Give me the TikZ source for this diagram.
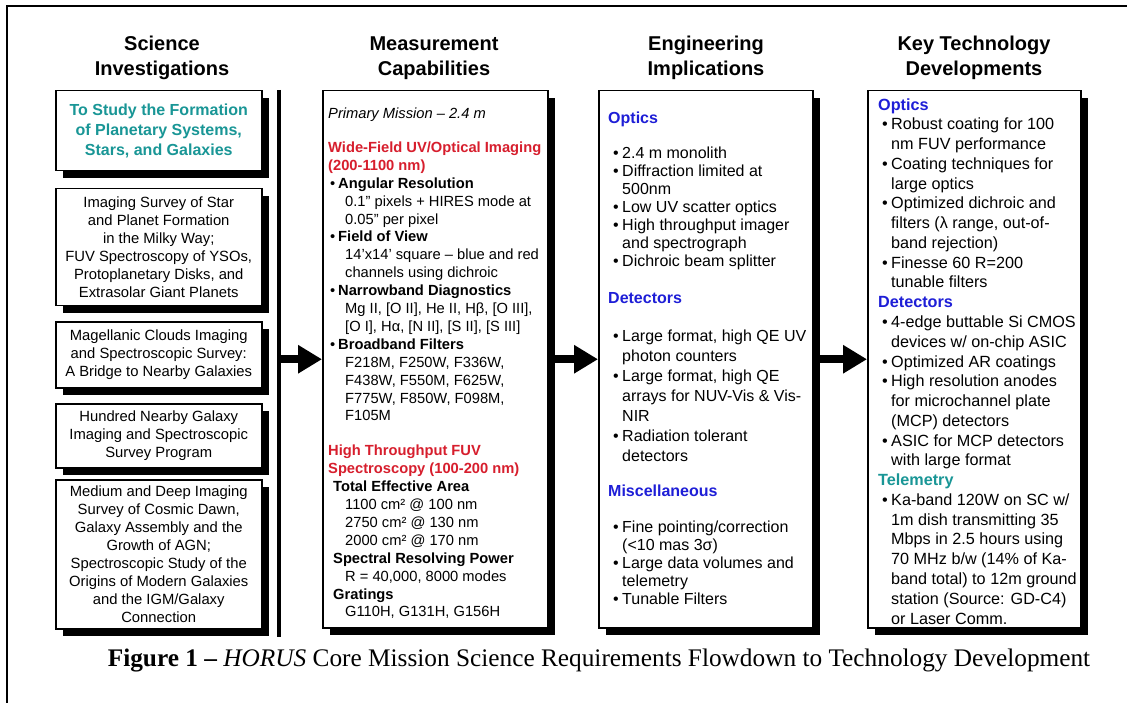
\documentclass[tikz,border=0pt]{standalone}
\usepackage{fontspec}
\setmainfont{Liberation Sans}
\newfontfamily\capfont{Liberation Serif}
\usetikzlibrary{arrows.meta,shadows}
\definecolor{horusteal}{RGB}{25,150,150}
\definecolor{horusred}{RGB}{215,30,45}
\definecolor{horusblue}{RGB}{30,30,215}
\newcommand{\itm}[2]{\hspace*{#1}\makebox[#2][l]{\textbullet}}
\newcommand{\ind}[1]{\hspace*{#1}}
\tikzset{
  sbox/.style={draw, line width=1.5pt, fill=white, inner sep=0pt, anchor=north west,
    drop shadow={shadow xshift=7pt, shadow yshift=-7pt, opacity=1, fill=black}},
  head/.style={align=center, font=\fontsize{20}{25}\selectfont\bfseries},
  sci/.style={align=center, font=\fontsize{14.8}{17.9}\selectfont},
  txt/.style={anchor=north west, align=left, inner sep=0pt},
  bigarrow/.style={line width=8pt, -{Triangle[length=24pt,width=27pt]}},
}
\begin{document}
\begin{tikzpicture}[x=1pt,y=-1pt]
\useasboundingbox (0,0) rectangle (1127,703);
\draw[line width=1.2pt] (7,703) -- (7,6) -- (1127,6);

\node[head] (h1) at (162,58) {Science\\Investigations};
\node[head] (h2) at (434,58) {Measurement\\Capabilities};
\node[head] (h3) at (706,58) {Engineering\\Implications};
\node[head] (h4) at (974,58) {Key Technology\\Developments};

\node[sbox, sci, minimum width=206, minimum height=80, text=horusteal,
  font=\fontsize{16}{20}\selectfont\bfseries] (si1) at (55,90)
  {To Study the Formation\\of Planetary Systems,\\Stars, and Galaxies};
\node[sbox, sci, minimum width=206, minimum height=117] (si2) at (55,188)
  {Imaging Survey of Star\\and Planet Formation\\in the Milky Way;\\FUV Spectroscopy of YSOs,\\Protoplanetary Disks, and\\Extrasolar Giant Planets};
\node[sbox, sci, minimum width=206, minimum height=66] (si3) at (55,321)
  {Magellanic Clouds Imaging\\and Spectroscopic Survey:\\A Bridge to Nearby Galaxies};
\node[sbox, sci, minimum width=206, minimum height=64] (si4) at (55,403)
  {Hundred Nearby Galaxy\\Imaging and Spectroscopic\\Survey Program};
\node[sbox, sci, minimum width=206, minimum height=149] (si5) at (55,479)
  {Medium and Deep Imaging\\Survey of Cosmic Dawn,\\Galaxy Assembly and the\\Growth of AGN;\\Spectroscopic Study of the\\Origins of Modern Galaxies\\and the IGM/Galaxy\\Connection};

\node[sbox, minimum width=225, minimum height=537] (mc) at (322,90) {};
\node[sbox, minimum width=214, minimum height=537] (ei) at (598,90) {};
\node[sbox, minimum width=213, minimum height=537] (kt) at (867,90) {};

\node[txt, font=\fontsize{14.7}{17.9}\selectfont] (mctext) at (328,105.8) {%
\strut\textit{Primary Mission – 2.4 m}\\[16pt]
\textcolor{horusred}{\textbf{Wide-Field UV/Optical Imaging}}\\
\textcolor{horusred}{\textbf{(200-1100 nm)}}\\
\itm{2pt}{8pt}\textbf{Angular Resolution}\\
\ind{17pt}0.1" pixels + HIRES mode at\\
\ind{17pt}0.05" per pixel\\
\itm{2pt}{8pt}\textbf{Field of View}\\
\ind{17pt}14'x14' square – blue and red\\
\ind{17pt}channels using dichroic\\
\itm{2pt}{8pt}\textbf{Narrowband Diagnostics}\\
\ind{17pt}Mg II, [O II], He II, Hβ, [O III],\\
\ind{17pt}[O I], Hα, [N II], [S II], [S III]\\
\itm{2pt}{8pt}\textbf{Broadband Filters}\\
\ind{17pt}F218M, F250W, F336W,\\
\ind{17pt}F438W, F550M, F625W,\\
\ind{17pt}F775W, F850W, F098M,\\
\ind{17pt}F105M\\[17pt]
\textcolor{horusred}{\textbf{High Throughput FUV}}\\
\textcolor{horusred}{\textbf{Spectroscopy (100-200 nm)}}\\
\ind{5pt}\textbf{Total Effective Area}\\
\ind{17pt}1100 cm² @ 100 nm\\
\ind{17pt}2750 cm² @ 130 nm\\
\ind{17pt}2000 cm² @ 170 nm\\
\ind{5pt}\textbf{Spectral Resolving Power}\\
\ind{17pt}R = 40,000, 8000 modes\\
\ind{5pt}\textbf{Gratings}\\
\ind{17pt}G110H, G131H, G156H};

\node[txt, font=\fontsize{16}{18}\selectfont] (eitext) at (608,110.2) {%
\strut\textcolor{horusblue}{\textbf{Optics}}\\[17pt]
\itm{5pt}{9pt}2.4 m monolith\\
\itm{5pt}{9pt}Diffraction limited at\\
\ind{14pt}500nm\\
\itm{5pt}{9pt}Low UV scatter optics\\
\itm{5pt}{9pt}High throughput imager\\
\ind{14pt}and spectrograph\\
\itm{5pt}{9pt}Dichroic beam splitter\\[19pt]
\textcolor{horusblue}{\textbf{Detectors}}\\[20pt]
\itm{5pt}{9pt}Large format, high QE UV\\[2pt]
\ind{14pt}photon counters\\[2pt]
\itm{5pt}{9pt}Large format, high QE\\[2pt]
\ind{14pt}arrays for NUV-Vis \& Vis-\\[2pt]
\ind{14pt}NIR\\[2pt]
\itm{5pt}{9pt}Radiation tolerant\\[2pt]
\ind{14pt}detectors\\[17pt]
\textcolor{horusblue}{\textbf{Miscellaneous}}\\[18pt]
\itm{5pt}{9pt}Fine pointing/correction\\
\ind{14pt}(<10 mas 3σ)\\
\itm{5pt}{9pt}Large data volumes and\\
\ind{14pt}telemetry\\
\itm{5pt}{9pt}Tunable Filters};

\node[txt, font=\fontsize{16.2}{19.77}\selectfont] (kttext) at (878,96) {%
\strut\textcolor{horusblue}{\textbf{Optics}}\\
\itm{4pt}{9pt}Robust coating for 100\\
\ind{13pt}nm FUV performance\\
\itm{4pt}{9pt}Coating techniques for\\
\ind{13pt}large optics\\
\itm{4pt}{9pt}Optimized dichroic and\\
\ind{13pt}filters (λ range, out-of-\\
\ind{13pt}band rejection)\\
\itm{4pt}{9pt}Finesse 60 R=200\\
\ind{13pt}tunable filters\\
\textcolor{horusblue}{\textbf{Detectors}}\\
\itm{4pt}{9pt}4-edge buttable Si CMOS\\
\ind{13pt}devices w/ on-chip ASIC\\
\itm{4pt}{9pt}Optimized AR coatings\\
\itm{4pt}{9pt}High resolution anodes\\
\ind{13pt}for microchannel plate\\
\ind{13pt}(MCP) detectors\\
\itm{4pt}{9pt}ASIC for MCP detectors\\
\ind{13pt}with large format\\
\textcolor{horusteal}{\textbf{Telemetry}}\\
\itm{4pt}{9pt}Ka-band 120W on SC w/\\
\ind{13pt}1m dish transmitting 35\\
\ind{13pt}Mbps in 2.5 hours using\\
\ind{13pt}70 MHz b/w (14\% of Ka-\\
\ind{13pt}band total) to 12m ground\\
\ind{13pt}station (Source: GD-C4)\\
\ind{13pt}or Laser Comm.};

\coordinate (bartop) at (279,90);
\coordinate (barbot) at (279,637);
\draw[line width=4.5pt] (bartop) -- (barbot);
\draw[bigarrow] (bartop |- mc.west) -- (mc.west);
\draw[bigarrow] (mc.east) -- (ei.west);
\draw[bigarrow] (ei.east) -- (kt.west);

\node[font=\capfont\fontsize{25.3}{30}\selectfont] (cap) at (599,661)
  {\textbf{Figure 1 –} \textit{HORUS} Core Mission Science Requirements Flowdown to Technology Development};
\end{tikzpicture}
\end{document}
